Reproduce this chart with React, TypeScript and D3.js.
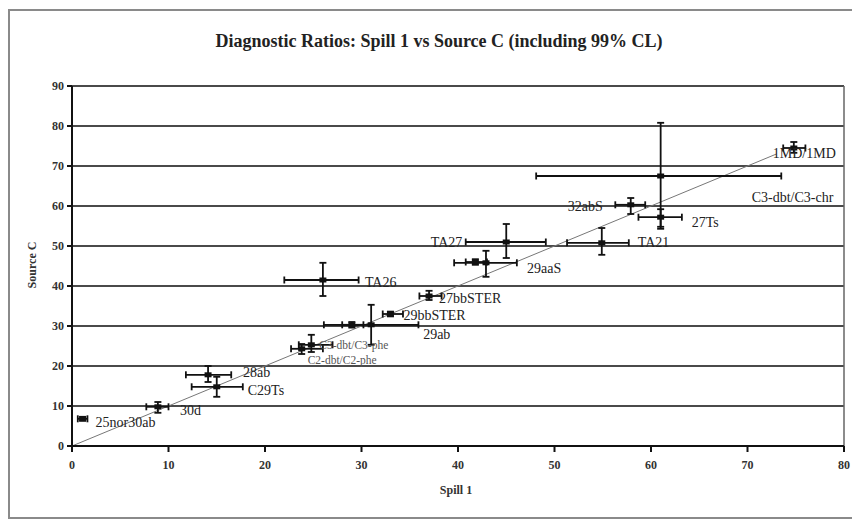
import React from "react";
import * as d3 from "d3";

const labels = ["25nor30ab", "30d", "28ab", "C29Ts", "C3-dbt/C3-phe", "C2-dbt/C2-phe", "", "29ab", "29bbSTER", "27bbSTER", "TA26", "", "29aaS", "TA27", "TA21", "32abS", "27Ts", "C3-dbt/C3-chr", "1MD/1MD"];
const spill = [1.1, 8.9, 14.1, 15.0, 24.8, 23.8, 29.0, 31.0, 33.0, 37.0, 26.0, 41.8, 42.9, 45.0, 54.9, 57.9, 61.0, 61.0, 74.8];
const spillLo = [0.6, 7.7, 11.8, 12.4, 23.5, 22.7, 28.0, 26.1, 32.2, 36.0, 22.0, 40.8, 39.6, 40.8, 51.3, 56.3, 58.7, 48.1, 73.7];
const spillHi = [1.6, 10.0, 16.5, 17.7, 27.0, 26.0, 30.2, 35.9, 34.3, 38.3, 29.7, 43.0, 46.1, 49.1, 57.7, 59.4, 63.2, 73.5, 76.0];
const source = [6.8, 9.8, 17.8, 14.8, 25.3, 24.3, 30.3, 30.3, 33.0, 37.5, 41.5, 46.0, 45.8, 51.0, 50.8, 60.3, 57.2, 67.5, 74.5];
const sourceLo = [6.3, 8.3, 16.0, 12.3, 23.5, 23.0, 29.6, 25.3, 32.4, 36.5, 37.5, 45.3, 42.3, 47.0, 47.8, 58.0, 54.8, 54.3, 73.3];
const sourceHi = [7.3, 11.0, 20.0, 17.3, 27.8, 25.5, 31.0, 35.3, 33.6, 38.8, 45.8, 46.7, 48.8, 55.5, 54.5, 62.0, 59.2, 80.8, 76.0];

const xTicks = [0, 10, 20, 30, 40, 50, 60, 70, 80];
const yTicks = [0, 10, 20, 30, 40, 50, 60, 70, 80, 90];
const oneToOne = [0, 73];

// label placement (pixel offsets from the point, and anchor)
const labelDx = [13, 22, 35, 31, 8, 6, 0, 52, 13, 10, 42, 0, 41, -44, 36, -28, 31, 91, -21];
const labelDy = [8, 8, 2, 8, 4, 15, 0, 14, 6, 7, 7, 0, 10, 5, 4, 6, 10, 26, 10];
const labelAnchor = ["start", "start", "start", "start", "start", "start", "start", "start", "start", "start", "start", "start", "start", "end", "start", "end", "start", "start", "start"];
const labelSize = [14, 14, 14, 14, 11.5, 11.5, 14, 14, 14, 14, 14, 14, 14, 14, 14, 14, 14, 14, 14];

export default function App() {
  const W = 852, H = 520;
  const x = d3.scaleLinear().domain([0, 80]).range([72, 844]);
  const y = d3.scaleLinear().domain([0, 90]).range([446, 86]);
  const font = "'Liberation Serif', 'Times New Roman', serif";
  const cap = 3.5;
  const line = d3.line<number>().x((d) => x(d)).y((d) => y(d));

  return (
    <svg width={W} height={H} style={{ position: "absolute", left: 0, top: 0, background: "#fff" }} fontFamily={font}>
      <rect x={9} y={10} width={850} height={508} fill="#fff" stroke="#8a8a8a" strokeWidth={2} />
      <text x={439} y={47} textAnchor="middle" fontSize={18} fontWeight="bold" fill="#222">
        Diagnostic Ratios: Spill 1 vs Source C (including 99% CL)
      </text>

      {/* gridlines */}
      {yTicks.filter((t) => t > 0).map((t) => (
        <line key={"g" + t} x1={x(0)} x2={x(80)} y1={y(t)} y2={y(t)} stroke="#4a4a4a" strokeWidth={1.8} />
      ))}
      <line x1={x(80)} x2={x(80)} y1={y(90)} y2={y(0)} stroke="#666" strokeWidth={1.5} />

      {/* 1:1 line */}
      <path d={line(oneToOne) || ""} stroke="#777" strokeWidth={1} fill="none" />

      {/* axes */}
      <line x1={x(0)} x2={x(80)} y1={y(0)} y2={y(0)} stroke="#111" strokeWidth={2} />
      <line x1={x(0)} x2={x(0)} y1={y(0)} y2={y(90)} stroke="#111" strokeWidth={2} />
      {xTicks.map((t) => (
        <g key={"x" + t}>
          <line x1={x(t)} x2={x(t)} y1={y(0)} y2={y(0) + 6} stroke="#111" strokeWidth={2} />
          <text x={x(t)} y={y(0) + 23} textAnchor="middle" fontSize={12} fontWeight="bold" fill="#333">{t}</text>
        </g>
      ))}
      {yTicks.map((t) => (
        <g key={"y" + t}>
          <line x1={x(0) - 5} x2={x(0)} y1={y(t)} y2={y(t)} stroke="#111" strokeWidth={2} />
          <text x={x(0) - 8} y={y(t) + 4} textAnchor="end" fontSize={12} fontWeight="bold" fill="#333">{t}</text>
        </g>
      ))}
      <text x={456} y={494} textAnchor="middle" fontSize={12} fontWeight="bold" fill="#333">Spill 1</text>
      <text transform={`translate(36,265) rotate(-90)`} textAnchor="middle" fontSize={12} fontWeight="bold" fill="#333">Source C</text>

      {/* error bars and points */}
      {spill.map((v, i) => {
        const px = x(v), py = y(source[i]);
        return (
          <g key={"p" + i} stroke="#111" strokeWidth={1.8}>
            <line x1={x(spillLo[i])} x2={x(spillHi[i])} y1={py} y2={py} />
            <line x1={x(spillLo[i])} x2={x(spillLo[i])} y1={py - cap} y2={py + cap} />
            <line x1={x(spillHi[i])} x2={x(spillHi[i])} y1={py - cap} y2={py + cap} />
            <line x1={px} x2={px} y1={y(sourceLo[i])} y2={y(sourceHi[i])} />
            <line x1={px - cap} x2={px + cap} y1={y(sourceLo[i])} y2={y(sourceLo[i])} />
            <line x1={px - cap} x2={px + cap} y1={y(sourceHi[i])} y2={y(sourceHi[i])} />
            <rect x={px - 3.5} y={py - 2.5} width={7} height={5} fill="#111" stroke="none" />
          </g>
        );
      })}
      {labels.map((l, i) =>
        l ? (
          <text
            key={"l" + i}
            x={x(spill[i]) + labelDx[i]}
            y={y(source[i]) + labelDy[i]}
            textAnchor={labelAnchor[i]}
            fontSize={labelSize[i]}
            fill={i === 4 || i === 5 ? "#555" : "#222"}
          >
            {l}
          </text>
        ) : null
      )}
    </svg>
  );
}
